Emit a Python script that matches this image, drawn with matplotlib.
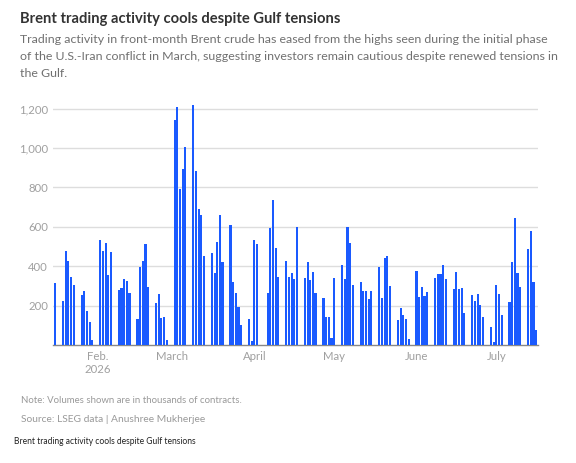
import matplotlib
matplotlib.use("Agg")
import matplotlib.pyplot as plt
import matplotlib.dates as mdates
import numpy as np
import pandas as pd

plt.rcParams['font.family'] = ['Lato', 'DejaVu Sans']

# trading days, Jan 16 - Jul 16 2026 (Good Friday closed)
start_date = "2026-01-16"
end_date = "2026-07-16"
holidays = ["2026-04-03"]

# front-month Brent volumes, thousands of contracts
volumes = [
    317,
    225, 475, 424, 346, 302,
    253, 275, 170, 119, 25,
    532, 475, 519, 353, 470,
    281, 288, 336, 327, 266,
    130, 398, 427, 514, 295,
    212, 259, 139, 142, 27,
    1141, 1210, 793, 892, 1007,
    1220, 881, 688, 659, 454,
    468, 364, 525, 658, 419,
    607, 322, 264, 195, 103,
    130, 20, 532, 515,
    266, 592, 734, 490, 346,
    424, 347, 364, 337, 598,
    341, 422, 329, 368, 266,
    236, 144, 144, 34, 341,
    405, 337, 597, 520, 305,
    319, 276, 276, 231, 276,
    398, 241, 444, 451, 298,
    129, 190, 153, 132, 31,
    376, 242, 292, 247, 271,
    342, 358, 358, 408, 337,
    286, 368, 283, 288, 161,
    254, 225, 259, 205, 142,
    92, 17, 302, 261, 154,
    220, 419, 644, 363, 292,
    485, 580, 319, 78,
]

month_ticks = ["2026-02-01", "2026-03-01", "2026-04-01", "2026-05-01", "2026-06-01", "2026-07-01"]
month_labels = ["Feb.\n2026", "March", "April", "May", "June", "July"]
y_ticks = [200, 400, 600, 800, 1000, 1200]

title = "Brent trading activity cools despite Gulf tensions"
subtitle = [
    "Trading activity in front-month Brent crude has eased from the highs seen during the initial phase",
    "of the U.S.-Iran conflict in March, suggesting investors remain cautious despite renewed tensions in",
    "the Gulf.",
]
note = "Note: Volumes shown are in thousands of contracts."
source = "Source: LSEG data | Anushree Mukherjee"

days = pd.bdate_range(start_date, end_date)
days = days[~days.isin(pd.to_datetime(holidays))]
x = mdates.date2num(days.to_pydatetime())

H = 463.0
fig = plt.figure(figsize=(5.76, 4.63), dpi=100)
ax = fig.add_axes([0.092, 0.2549, 0.842, 0.5318])

ax.bar(x, volumes, width=0.8, color='#1a5aff', zorder=3)

ax.set_xlim(x[0] - 0.8, x[-1] + 0.7)
ax.set_ylim(0, 1250)
ax.set_yticks(y_ticks)
ax.set_yticklabels([f"{v:,}" for v in y_ticks])
ax.set_xticks(mdates.date2num(pd.to_datetime(month_ticks).to_pydatetime()))
ax.set_xticklabels(month_labels, linespacing=1.3)

ax.grid(axis='y', color='#dddddd', linewidth=1, zorder=0)
for s in ['top', 'right', 'left']:
    ax.spines[s].set_visible(False)
ax.spines['bottom'].set_color('#888888')
ax.spines['bottom'].set_linewidth(1)
ax.tick_params(axis='both', length=0, labelsize=8.2, labelcolor='#a0a0a0')
ax.tick_params(axis='y', pad=3.5)
ax.tick_params(axis='x', pad=4)

fig.text(0.034, 1 - 23 / H, title,
         fontsize=10.6, fontweight='bold', color='#333333', va='baseline')
for i, line in enumerate(subtitle):
    fig.text(0.034, 1 - (43 + 17 * i) / H, line,
             fontsize=8.9, color='#707070', va='baseline')
fig.text(0.036, 0.134, note, fontsize=6.9, color='#999999', va='center')
fig.text(0.036, 0.093, source, fontsize=7.4, color='#999999', va='center')
fig.text(0.024, 0.047, title, fontsize=6.15, color='#222222', va='center')

fig.savefig("out.png", dpi=100)
